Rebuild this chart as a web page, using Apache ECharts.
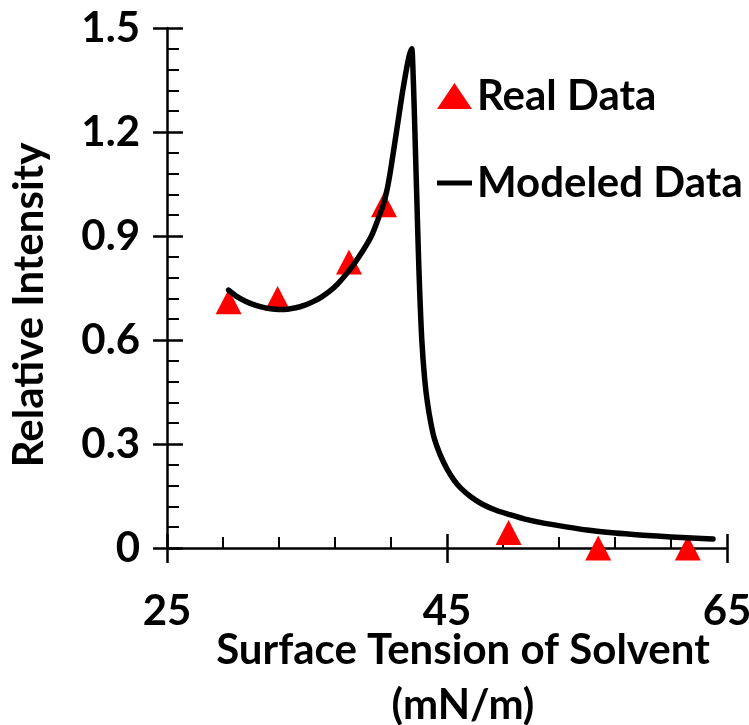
<!DOCTYPE html>
<html>
<head>
<meta charset="utf-8">
<script src="https://cdn.jsdelivr.net/npm/echarts@6/dist/echarts.min.js"></script>
<style>
html,body{margin:0;padding:0;background:#fff;}
#chart{width:749px;height:725px;}
</style>
</head>
<body>
<div id="chart"></div>
<script>
// Real data (triangles)
const realX = [29.4, 32.9, 38.0, 40.5, 49.4, 55.8, 62.2];
const realY = [0.71, 0.72, 0.825, 0.99, 0.045, 0.0, 0.0];

// Modeled data (line)
const modelX = [29.4, 30.0, 30.6, 31.2, 31.8, 32.4, 33.0, 33.6, 34.2, 34.8, 35.4, 36.0, 36.6, 37.2, 37.8, 38.4, 39.0, 39.6, 40.0, 40.45, 40.7, 40.93, 41.2, 41.5, 41.8, 42.1, 42.3, 42.48, 42.55, 42.65, 42.75, 42.85, 42.95, 43.05, 43.2, 43.4, 43.6, 43.85, 44.1, 44.5, 45.0, 45.5, 46.0, 46.7, 47.5, 48.5, 49.5, 50.5, 52.0, 53.5, 55.0, 57.0, 59.0, 61.0, 62.5, 64.0];
const modelY = [0.744, 0.725, 0.712, 0.702, 0.695, 0.690, 0.688, 0.689, 0.693, 0.700, 0.710, 0.723, 0.740, 0.762, 0.790, 0.822, 0.858, 0.900, 0.940, 0.99, 1.03, 1.08, 1.15, 1.23, 1.31, 1.38, 1.42, 1.44, 1.40, 1.28, 1.14, 1.00, 0.86, 0.74, 0.60, 0.49, 0.42, 0.36, 0.315, 0.27, 0.228, 0.196, 0.172, 0.148, 0.127, 0.109, 0.096, 0.084, 0.071, 0.061, 0.052, 0.043, 0.037, 0.032, 0.029, 0.026];

// Axis settings
const xMin = 25, xMax = 65, xStep = 20;
const yMin = 0, yMax = 1.5, yStep = 0.3;
const seriesNames = ['Real Data', 'Modeled Data'];
const xTitle = 'Surface Tension of Solvent\n(mN/m)';
const yTitle = 'Relative Intensity';

const FONT = 'Lato';
const FS = 42;

const chart = echarts.init(document.getElementById('chart'), null, {renderer: 'canvas'});

const realData = realX.map((x, i) => [x, realY[i]]);
const modelData = modelX.map((x, i) => [x, modelY[i]]);

const txt = {fontFamily: FONT, fontWeight: 'bold', fontSize: FS, color: '#000'};

chart.setOption({
  animation: false,
  backgroundColor: '#fff',
  grid: {left: 167, top: 28, width: 560, height: 520, containLabel: false, outerBoundsMode: 'none'},
  legend: {
    orient: 'vertical',
    left: 437,
    top: 75,
    padding: 0,
    itemWidth: 35,
    itemHeight: 26,
    itemGap: 45,
    textStyle: Object.assign({}, txt, {lineHeight: 26}),
    data: [
      {name: seriesNames[0], icon: 'triangle', itemStyle: {color: '#ff0000', opacity: 1}},
      {name: seriesNames[1], icon: 'path://M0,0L35,0L35,5L0,5Z', itemStyle: {color: '#000'}}
    ]
  },
  xAxis: [
    {
      type: 'value', min: xMin, max: xMax, interval: xStep,
      axisLine: {show: true, onZero: true, lineStyle: {color: '#000', width: 2.5}},
      axisTick: {show: true, inside: true, length: 14, lineStyle: {color: '#000', width: 2.5}},
      minorTick: {show: true, splitNumber: 5, length: 11, lineStyle: {color: '#000', width: 2}},
      splitLine: {show: false},
      axisLabel: Object.assign({}, txt, {margin: 42}),
      name: xTitle,
      nameLocation: 'middle',
      nameGap: 75,
      nameMoveOverlap: false,
      nameTextStyle: Object.assign({}, txt, {lineHeight: 55, padding: [0, 0, 0, 32]})
    },
    {
      type: 'value', min: xMin, max: xMax, interval: xStep, position: 'bottom',
      axisLine: {show: false, onZero: true},
      axisTick: {show: true, inside: false, length: 15, lineStyle: {color: '#000', width: 2.5}},
      axisLabel: {show: false},
      splitLine: {show: false}
    }
  ],
  yAxis: [
    {
      type: 'value', min: yMin, max: yMax, interval: yStep,
      axisLine: {show: true, lineStyle: {color: '#000', width: 2.5}},
      axisTick: {show: true, inside: true, length: 16, lineStyle: {color: '#000', width: 2.5}},
      minorTick: {show: true, splitNumber: 5, length: 12, lineStyle: {color: '#000', width: 2}},
      splitLine: {show: false},
      axisLabel: Object.assign({}, txt, {margin: 27, formatter: v => (v === 0 ? '0' : v.toFixed(1))}),
      name: yTitle,
      nameLocation: 'middle',
      nameGap: 117,
      nameRotate: 90,
      nameMoveOverlap: false,
      nameTextStyle: Object.assign({}, txt, {padding: [0, 34, 0, 0]})
    },
    {
      type: 'value', min: yMin, max: yMax, interval: yStep, position: 'left',
      axisLine: {show: false},
      axisTick: {show: true, inside: false, length: 14, lineStyle: {color: '#000', width: 2.5}},
      axisLabel: {show: false},
      splitLine: {show: false}
    }
  ],
  series: [
    {
      name: seriesNames[0],
      type: 'scatter',
      xAxisIndex: 0, yAxisIndex: 0,
      symbol: 'triangle',
      symbolSize: [26, 25],
      itemStyle: {color: '#ff0000', opacity: 1},
      data: realData
    },
    {
      name: seriesNames[1],
      type: 'line',
      xAxisIndex: 0, yAxisIndex: 0,
      symbol: 'none',
      showSymbol: false,
      smooth: 0.25,
      itemStyle: {color: '#000'},
      lineStyle: {color: '#000', width: 5.5, cap: 'round', join: 'round'},
      data: modelData
    }
  ]
});
</script>
</body>
</html>
